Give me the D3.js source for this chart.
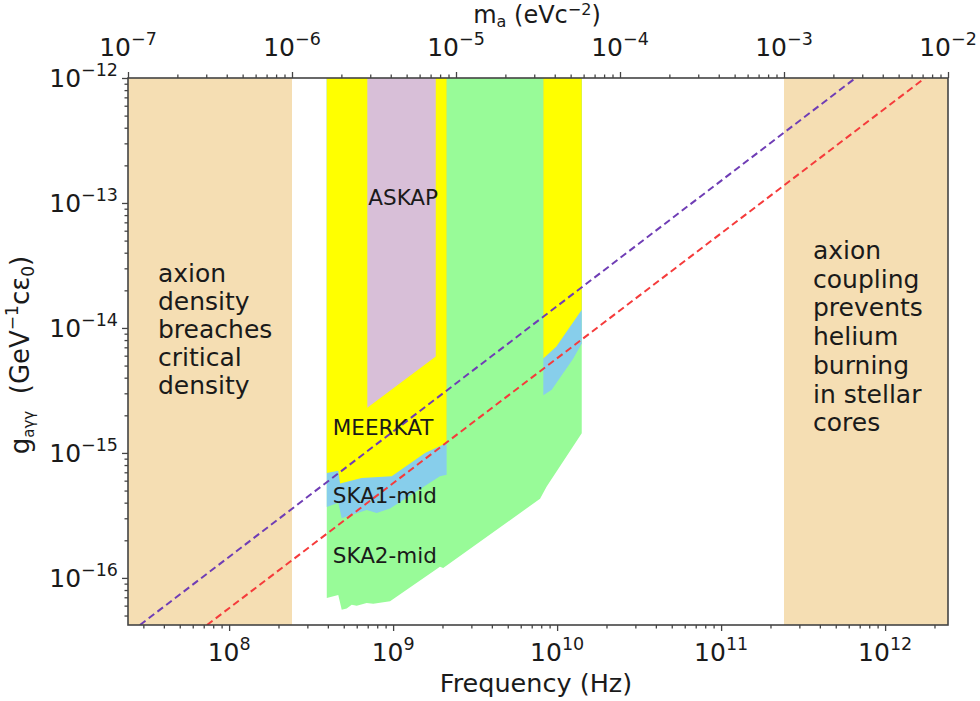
<!DOCTYPE html>
<html>
<head>
<meta charset="utf-8">
<script src="https://cdn.jsdelivr.net/npm/d3@7"></script>
<style>
  html, body { margin: 0; padding: 0; background: #fff; }
  svg text { font-family: "DejaVu Sans", sans-serif; fill: #1a1a1a; }
</style>
</head>
<body>
<svg id="chart" width="980" height="701"></svg>
<script>
// ---------------- data ----------------
const freqDomain = [2.418e7, 2.418e12];      // Hz
const massDomain = [1e-7, 1e-2];             // eV c^-2
const couplingDomain = [4.2e-17, 1e-12];     // GeV^-1 c eps0
const HZ_PER_EV = 2.418e14;

const freqTicks = [1e8, 1e9, 1e10, 1e11, 1e12];
const freqTickExp = ["8", "9", "10", "11", "12"];
const massTicks = [1e-7, 1e-6, 1e-5, 1e-4, 1e-3, 1e-2];
const massTickExp = ["−7", "−6", "−5", "−4", "−3", "−2"];
const gTicks = [1e-16, 1e-15, 1e-14, 1e-13, 1e-12];
const gTickExp = ["−16", "−15", "−14", "−13", "−12"];

// excluded mass ranges (eV)
const lowMassLimit = 1e-6;
const highMassLimit = 1e-3;

// SKA2-mid sensitivity (green)
const ska2F = [3.94e8, 4.63e8, 4.86e8, 5.21e8, 5.59e8, 6.0e8, 6.9e8, 7.57e8, 9.58e8, 1.93e9, 2.02e9, 7.87e9, 8.64e9, 1.413e10];
const ska2G = [6.9e-17, 7.3e-17, 5.55e-17, 5.7e-17, 6.1e-17, 6.0e-17, 6.3e-17, 6.2e-17, 6.5e-17, 1.23e-16, 1.2e-16, 4.3e-16, 5.4e-16, 1.44e-15];

// SKA1-mid sensitivity (blue), two bands
const ska1F1 = [3.94e8, 4.63e8, 4.86e8, 5.21e8, 6.9e8, 7.94e8, 9.58e8, 1.93e9, 2.12e9];
const ska1G1 = [3.7e-16, 4.0e-16, 3.0e-16, 3.1e-16, 3.5e-16, 3.3e-16, 3.6e-16, 6.5e-16, 6.7e-16];
const ska1F2 = [8.24e9, 9.27e9, 1.255e10, 1.413e10];
const ska1G2 = [2.9e-15, 3.2e-15, 5.7e-15, 7.5e-15];

// MeerKAT sensitivity (yellow), two bands
const meerF1 = [3.94e8, 4.63e8, 4.75e8, 6.43e8, 9.8e8, 1.565e9, 2.12e9];
const meerG1 = [6.9e-16, 7.2e-16, 5.7e-16, 6.3e-16, 6.5e-16, 1.0e-15, 1.2e-15];
const meerF2 = [8.24e9, 9.9e9, 1.413e10];
const meerG2 = [5.7e-15, 7.1e-15, 1.4e-14];

// ASKAP sensitivity (thistle)
const askapF = [6.96e8, 1.82e9];
const askapG = [2.3e-15, 5.9e-15];

// dashed reference lines (end points)
const purpleF = [2.86e7, 6.6e11];
const purpleG = [4.2e-17, 1e-12];
const redF = [7.33e7, 1.75e12];
const redG = [4.2e-17, 1e-12];

const leftNote = ["axion", "density", "breaches", "critical", "density"];
const rightNote = ["axion", "coupling", "prevents", "helium", "burning", "in stellar", "cores"];

// ---------------- layout ----------------
const L = 128, R = 948, T = 78, B = 625;
const svg = d3.select("#chart");

const x = d3.scaleLog().domain(freqDomain).range([L, R]);
const xm = d3.scaleLog().domain(massDomain).range([L, R]);
const y = d3.scaleLog().domain(couplingDomain).range([B, T]);

svg.append("defs").append("clipPath").attr("id", "plotclip")
  .append("rect").attr("x", L).attr("y", T).attr("width", R - L).attr("height", B - T);

const plot = svg.append("g").attr("clip-path", "url(#plotclip)");

// exclusion regions
plot.append("rect")
  .attr("x", x(freqDomain[0])).attr("y", y(couplingDomain[1]))
  .attr("width", x(lowMassLimit * HZ_PER_EV) - x(freqDomain[0]))
  .attr("height", y(couplingDomain[0]) - y(couplingDomain[1]))
  .attr("fill", "#F5DEB3");
plot.append("rect")
  .attr("x", x(highMassLimit * HZ_PER_EV)).attr("y", y(couplingDomain[1]))
  .attr("width", x(freqDomain[1]) - x(highMassLimit * HZ_PER_EV))
  .attr("height", y(couplingDomain[0]) - y(couplingDomain[1]))
  .attr("fill", "#F5DEB3");

const line = d3.line().x(d => x(d[0])).y(d => y(d[1]));
function fillToTop(fs, gs) {
  const gTop = couplingDomain[1];
  const pts = [[fs[0], gTop]];
  fs.forEach((f, i) => pts.push([f, gs[i]]));
  pts.push([fs[fs.length - 1], gTop]);
  return line(pts) + "Z";
}

plot.append("path").attr("d", fillToTop(ska2F, ska2G)).attr("fill", "#98FB98");
plot.append("path").attr("d", fillToTop(ska1F1, ska1G1)).attr("fill", "#87CEEB");
plot.append("path").attr("d", fillToTop(ska1F2, ska1G2)).attr("fill", "#87CEEB");
plot.append("path").attr("d", fillToTop(meerF1, meerG1)).attr("fill", "#FFFF00");
plot.append("path").attr("d", fillToTop(meerF2, meerG2)).attr("fill", "#FFFF00");
plot.append("path").attr("d", fillToTop(askapF, askapG)).attr("fill", "#D8BFD8");

// region labels
const lab = svg.append("g").attr("font-size", 21.5);
lab.append("text").attr("x", x(askapF[0]) + 1).attr("y", 205).text("ASKAP");
lab.append("text").attr("x", x(meerF1[0]) + 6).attr("y", 435).text("MEERKAT");
lab.append("text").attr("x", x(meerF1[0]) + 6).attr("y", 503).text("SKA1-mid");
lab.append("text").attr("x", x(meerF1[0]) + 6).attr("y", 563).text("SKA2-mid");

// dashed lines
plot.append("path").attr("d", line(purpleF.map((f, i) => [f, purpleG[i]])))
  .attr("stroke", "#6f3db5").attr("stroke-width", 2).attr("stroke-dasharray", "7,4").attr("fill", "none");
plot.append("path").attr("d", line(redF.map((f, i) => [f, redG[i]])))
  .attr("stroke", "#f53b3b").attr("stroke-width", 2).attr("stroke-dasharray", "7,4").attr("fill", "none");

// notes in exclusion regions
const notes = svg.append("g").attr("font-size", 25);
leftNote.forEach((s, i) => notes.append("text").attr("x", 158).attr("y", 282 + i * 28).text(s));
rightNote.forEach((s, i) => notes.append("text").attr("x", 813).attr("y", 259 + i * 28.7).text(s));

// ---------------- axes ----------------
const axisColor = "#444";
function minors(domain) {
  const out = [];
  const e0 = Math.floor(Math.log10(domain[0])), e1 = Math.ceil(Math.log10(domain[1]));
  for (let e = e0; e <= e1; e++) for (let k = 2; k <= 9; k++) {
    const v = k * Math.pow(10, e);
    if (v > domain[0] * 1.0001 && v < domain[1] * 0.9999) out.push(v);
  }
  return out;
}
function styleAxis(g) {
  g.select(".domain").remove();
  g.selectAll("line").attr("stroke", axisColor).attr("stroke-width", 1.3);
  g.selectAll("text").remove();
}

// bottom
svg.append("g").attr("transform", `translate(0,${B})`)
  .call(d3.axisBottom(x).tickValues(freqTicks).tickSize(6)).call(styleAxis);
svg.append("g").attr("transform", `translate(0,${B})`)
  .call(d3.axisBottom(x).tickValues(minors(freqDomain)).tickSize(3.5)).call(styleAxis);
// top
svg.append("g").attr("transform", `translate(0,${T})`)
  .call(d3.axisTop(xm).tickValues(massTicks).tickSize(6)).call(styleAxis);
svg.append("g").attr("transform", `translate(0,${T})`)
  .call(d3.axisTop(xm).tickValues(minors(massDomain)).tickSize(3.5)).call(styleAxis);
// left
svg.append("g").attr("transform", `translate(${L},0)`)
  .call(d3.axisLeft(y).tickValues(gTicks).tickSize(6)).call(styleAxis);
svg.append("g").attr("transform", `translate(${L},0)`)
  .call(d3.axisLeft(y).tickValues(minors(couplingDomain)).tickSize(3.5)).call(styleAxis);

// frame
svg.append("rect").attr("x", L).attr("y", T).attr("width", R - L).attr("height", B - T)
  .attr("fill", "none").attr("stroke", axisColor).attr("stroke-width", 1.6);

// tick labels
function powLabel(g, px, py, exp, anchor) {
  const t = g.append("text").attr("x", px).attr("y", py).attr("text-anchor", anchor).attr("font-size", 25);
  t.append("tspan").text("10");
  t.append("tspan").attr("dy", -11).attr("font-size", 17.5).text(exp);
  return t;
}
const tl = svg.append("g");
freqTicks.forEach((v, i) => powLabel(tl, x(v), 661, freqTickExp[i], "middle"));
massTicks.forEach((v, i) => powLabel(tl, xm(v), 56, massTickExp[i], "middle"));
gTicks.forEach((v, i) => powLabel(tl, 118, y(v) + 9, gTickExp[i], "end"));

// axis titles
svg.append("text").attr("x", 536).attr("y", 692).attr("text-anchor", "middle")
  .attr("font-size", 25.5).text("Frequency (Hz)");

const topTitle = svg.append("text").attr("x", 537).attr("y", 23).attr("text-anchor", "middle").attr("font-size", 24);
topTitle.append("tspan").text("m");
topTitle.append("tspan").attr("dy", 4).attr("font-size", 16).text("a");
topTitle.append("tspan").attr("dy", -4).text(" (eVc");
topTitle.append("tspan").attr("dy", -8).attr("font-size", 16).text("−2");
topTitle.append("tspan").attr("dy", 8).text(")");

const yl = svg.append("text").attr("transform", `translate(29,355) rotate(-90)`)
  .attr("text-anchor", "middle").attr("font-size", 26).style("white-space", "pre");
yl.append("tspan").text("g");
yl.append("tspan").attr("dy", 5).attr("font-size", 15).text("aγγ");
yl.append("tspan").attr("dy", -5).text("  (GeV");
yl.append("tspan").attr("dy", -11).attr("font-size", 17).text("−1");
yl.append("tspan").attr("dy", 11).text("cε");
yl.append("tspan").attr("dy", 5).attr("font-size", 17).text("0");
yl.append("tspan").attr("dy", -5).text(")");
</script>
</body>
</html>
